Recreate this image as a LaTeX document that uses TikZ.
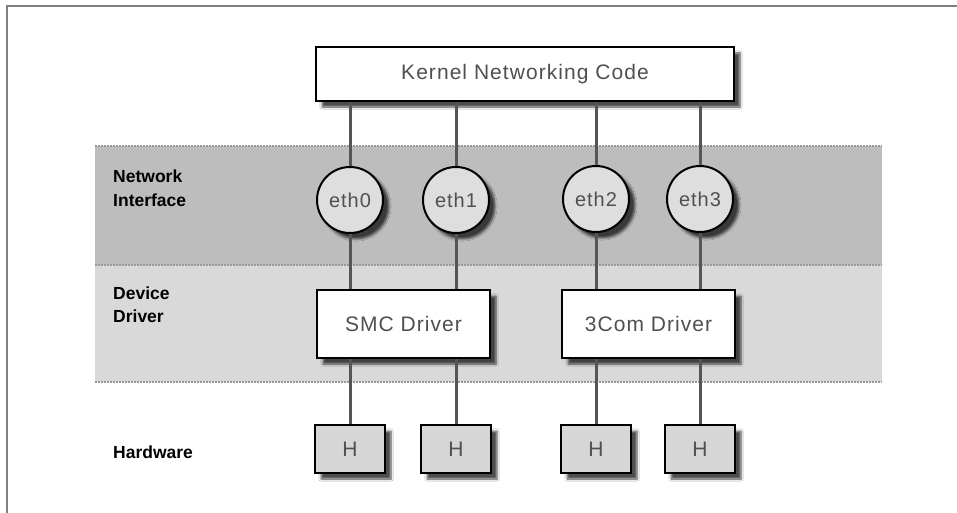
\documentclass[tikz,border=0pt]{standalone}
\usepackage{fontspec}
\setmainfont{Liberation Sans}
\newfontfamily\boxfont[LetterSpace=5]{Liberation Sans}
\usetikzlibrary{shadows.blur}
\definecolor{bandA}{HTML}{BDBDBD}
\definecolor{bandB}{HTML}{D9D9D9}
\definecolor{fillC}{HTML}{DEDEDE}
\definecolor{fillH}{HTML}{D6D6D6}
\definecolor{wire}{HTML}{555555}
\definecolor{txt}{HTML}{505050}
\definecolor{frame}{HTML}{808080}
\tikzset{
  shad/.style={blur shadow={shadow xshift=6pt, shadow yshift=-6pt, shadow blur steps=6, shadow opacity=70}},
  whitebox/.style={draw=black, line width=2pt, fill=white, shad, inner sep=0pt,
     font=\boxfont\fontsize{21}{24}\selectfont, text=txt},
  ethnode/.style={circle, draw=black, line width=2pt, fill=fillC, shad, minimum size=66pt, inner sep=0pt,
     font=\boxfont\fontsize{20}{22}\selectfont, text=txt},
  hbox/.style={draw=black, line width=2pt, fill=fillH, shad, minimum width=70pt, minimum height=48pt, inner sep=0pt,
     font=\boxfont\fontsize{21}{24}\selectfont, text=txt},
  lab/.style={anchor=west, align=left, inner sep=0pt, font=\bfseries\fontsize{17.5}{23.5}\selectfont},
  wireline/.style={draw=wire, line width=3pt},
  sep/.style={draw=frame!80, line width=1.6pt, dash pattern=on 1.5pt off 1.5pt}
}
\begin{document}
\begin{tikzpicture}[x=1pt,y=-1pt]
\useasboundingbox (0,0) rectangle (957,513);
\fill[white] (0,0) rectangle (957,513);
% frame
\draw[frame, line width=2.5pt] (7,513) -- (7,6) -- (957,6);
% bands
\fill[bandA] (95,146) rectangle (882,265);
\fill[bandB] (95,265) rectangle (882,382);
\draw[sep] (95,146) -- (882,146);
\draw[sep] (95,265) -- (882,265);
\draw[sep] (95,382) -- (882,382);
% labels
\node[lab] (lni) at (113,188) {Network\\Interface};
\node[lab] (ldd) at (113,304.5) {Device\\Driver};
\node[lab] (lhw) at (113,452) {Hardware};
% nodes
\node[whitebox, minimum width=418pt, minimum height=54pt] (kernel) at (525,74) {Kernel Networking Code};
\node[ethnode] (e0) at (350,200) {eth0};
\node[ethnode] (e1) at (456,200) {eth1};
\node[ethnode] (e2) at (596,199) {eth2};
\node[ethnode] (e3) at (700,199) {eth3};
\node[whitebox, minimum width=173pt, minimum height=68pt] (smc) at (403.5,324) {SMC Driver};
\node[whitebox, minimum width=173pt, minimum height=68pt] (com) at (648.5,324) {3Com Driver};
\node[hbox] (h0) at (350,449) {H};
\node[hbox] (h1) at (456,449) {H};
\node[hbox] (h2) at (596,449) {H};
\node[hbox] (h3) at (700,449) {H};
% connectors
\foreach \e in {e0,e1,e2,e3} {
  \draw[wireline] (\e.north) -- (\e.north |- kernel.south);
}
\draw[wireline] (e0.south) -- (e0.south |- smc.north);
\draw[wireline] (e1.south) -- (e1.south |- smc.north);
\draw[wireline] (e2.south) -- (e2.south |- com.north);
\draw[wireline] (e3.south) -- (e3.south |- com.north);
\draw[wireline] (h0.north) -- (h0.north |- smc.south);
\draw[wireline] (h1.north) -- (h1.north |- smc.south);
\draw[wireline] (h2.north) -- (h2.north |- com.south);
\draw[wireline] (h3.north) -- (h3.north |- com.south);
\end{tikzpicture}
\end{document}
